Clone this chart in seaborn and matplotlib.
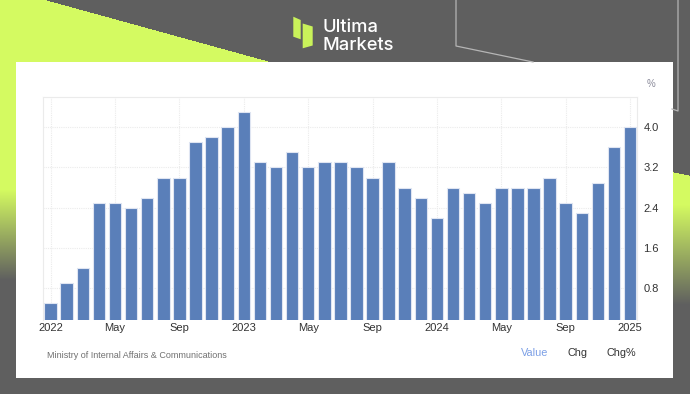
import numpy as np
import pandas as pd
import matplotlib
matplotlib.use("Agg")
import matplotlib.pyplot as plt
from matplotlib.patches import Rectangle, Polygon
import seaborn as sns

# ---- data (Japan CPI YoY %, Jan 2022 - Jan 2025) ----
months = pd.date_range("2022-01-01", "2025-01-01", freq="MS").strftime("%Y-%m").tolist()
values = [0.5, 0.9, 1.2, 2.5, 2.5, 2.4, 2.6, 3.0, 3.0, 3.7, 3.8, 4.0,
          4.3, 3.3, 3.2, 3.5, 3.2, 3.3, 3.3, 3.2, 3.0, 3.3, 2.8, 2.6,
          2.2, 2.8, 2.7, 2.5, 2.8, 2.8, 2.8, 3.0, 2.5, 2.3, 2.9, 3.6,
          4.0]
xtick_labels = ["2022", "May", "Sep", "2023", "May", "Sep", "2024", "May", "Sep", "2025"]
ytick_values = [0.8, 1.6, 2.4, 3.2, 4.0]
source_text = "Ministry of Internal Affairs & Communications"

df = pd.DataFrame({"month": months, "value": values})

W, H = 690, 394
fig = plt.figure(figsize=(W / 100, H / 100), dpi=100)

# ---- decorative background ----
GRAY = np.array([95, 95, 95]) / 255
GREEN = np.array([212, 250, 97]) / 255
yy, xx = np.mgrid[0:H, 0:W] + 0.5
img = np.ones((H, W, 3)) * GRAY
# left green wedge + fade
tl = np.clip((yy - 190) / (280 - 190), 0, 1)
left_mask = xx < 45 + 3.63 * yy
img[left_mask] = (GREEN * (1 - tl[..., None]) + GRAY * tl[..., None])[left_mask]
# right green band + fade
tr = np.clip((yy - 205) / (305 - 205), 0, 1)
right_mask = (xx >= 672) & (yy > 172 + (xx - 672) * 0.2)
img[right_mask] = (GREEN * (1 - tr[..., None]) + GRAY * tr[..., None])[right_mask]

bg = fig.add_axes([0, 0, 1, 1], zorder=0)
bg.imshow(img, extent=(0, W, H, 0), aspect="auto", interpolation="bilinear")
bg.set_xlim(0, W)
bg.set_ylim(H, 0)
bg.axis("off")

# outline lines
bg.plot([456, 456, 533], [0, 46, 62], color="#b5b5b5", lw=0.9)
bg.plot([678, 678, 672], [0, 111, 109], color="#b5b5b5", lw=0.9)

# white card
bg.add_patch(Rectangle((16, 62), 657, 316, facecolor="white", edgecolor="none"))

# logo
LOGO = "#c9f25a"
bg.add_patch(Polygon([(293.3, 16.7), (300.7, 20), (300.7, 39.3), (293.3, 36.7)],
                     closed=True, facecolor=LOGO, edgecolor="none"))
bg.add_patch(Polygon([(302.7, 23.5), (312.7, 26.5), (312.7, 45.5), (302.7, 48.3)],
                     closed=True, facecolor=LOGO, edgecolor="none"))
bg.text(322, 32, "Ultima", color="white", fontsize=13.2, family="Inter",
        weight="medium", va="baseline", ha="left")
bg.text(322, 49.5, "Markets", color="white", fontsize=13.2, family="Inter",
        weight="medium", va="baseline", ha="left")

# footer texts
bg.text(47, 355, source_text, color="#707070", fontsize=6.45,
        family="Liberation Sans", va="center", ha="left")
bg.text(521, 353.5, "Value", color="#7b9fe6", fontsize=7.8,
        family="Liberation Sans", va="center", ha="left")
bg.text(567.5, 353.5, "Chg", color="#333333", fontsize=7.8,
        family="Liberation Sans", va="center", ha="left")
bg.text(606.5, 353.5, "Chg%", color="#333333", fontsize=7.8,
        family="Liberation Sans", va="center", ha="left")
bg.text(651, 83.5, "%", color="#8a8a9a", fontsize=7,
        family="Liberation Sans", va="center", ha="center")

# ---- main chart ----
left, right, top, bottom = 42.6, 637.0, 97.0, 320.0
ax = fig.add_axes([left / W, 1 - bottom / H, (right - left) / W, (bottom - top) / H], zorder=2)
ax.set_facecolor("none")

sns.barplot(data=df, x="month", y="value", color="#5a7fb9", saturation=1,
            width=0.78, edgecolor="#dfe5f2", linewidth=0.8, ax=ax, zorder=3)

ax.set_xlim(-0.5, 36.43)
ax.set_ylim(0.17, 4.6)
ax.set_xticks(list(range(0, 37, 4)))
ax.set_xticklabels(xtick_labels)
ax.set_yticks(ytick_values)
ax.set_yticklabels([f"{v:.1f}" for v in ytick_values])
ax.yaxis.tick_right()
ax.set_xlabel("")
ax.set_ylabel("")

ax.set_axisbelow(True)
ax.grid(True, color="#ebebeb", linestyle=(0, (1, 1)), linewidth=0.8)
for side in ["left", "right", "top"]:
    ax.spines[side].set_color("#ebebeb")
    ax.spines[side].set_linestyle((0, (1, 1)))
    ax.spines[side].set_linewidth(0.8)
ax.spines["bottom"].set_visible(False)

ax.tick_params(axis="both", length=0, labelsize=8, labelcolor="#333333")
ax.tick_params(axis="x", pad=2.5)
ax.tick_params(axis="y", pad=4.5)
for lab in ax.get_xticklabels() + ax.get_yticklabels():
    lab.set_family("Liberation Sans")

fig.savefig("out.png", dpi=100)
